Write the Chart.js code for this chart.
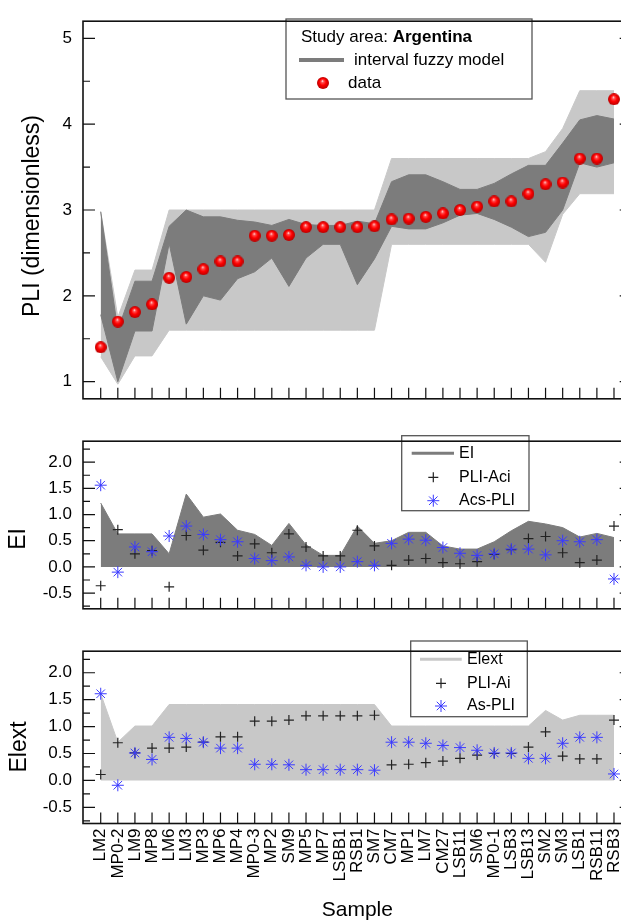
<!DOCTYPE html>
<html>
<head>
<meta charset="utf-8">
<script src="https://cdn.jsdelivr.net/npm/chart.js@4.4.1/dist/chart.umd.min.js"></script>
<style>
  html, body { margin: 0; padding: 0; background: #fff; overflow: hidden; }
  #wrap { position: relative; width: 621px; height: 923px; overflow: hidden; }
  canvas { position: absolute; left: 0; }
</style>
</head>
<body>
<div id="wrap">
  <canvas id="pli" width="640" height="420" style="top:0px"></canvas>
  <canvas id="ei" width="640" height="210" style="top:420px"></canvas>
  <canvas id="elext" width="640" height="293" style="top:630px"></canvas>
</div>
<script>
// sample names (x axis)
const samples = ['LM2', 'MP0-2', 'LM9', 'MP8', 'LM6', 'LM3', 'MP3', 'MP6', 'MP4', 'MP0-3', 'MP2', 'SM9',
  'MP5', 'MP7', 'LSBB1', 'RSB1', 'SM7', 'CM7', 'MP1', 'LM7', 'CM27', 'LSB11', 'SM6', 'MP0-1', 'LSB3',
  'LSB13', 'SM2', 'SM3', 'LSB1', 'RSB11', 'RSB3'];

// top panel: measured PLI and the interval fuzzy model bands
const pliData = [1.40, 1.70, 1.81, 1.90, 2.21, 2.22, 2.31, 2.40, 2.40, 2.70, 2.70, 2.71, 2.80, 2.80, 2.80, 2.80,
  2.81, 2.89, 2.90, 2.92, 2.96, 3.00, 3.04, 3.10, 3.10, 3.19, 3.30, 3.32, 3.60, 3.60, 4.29];
const innerUpper = [2.98, 1.60, 2.17, 2.17, 2.81, 3.00, 2.92, 2.92, 2.88, 2.86, 2.82, 2.89, 2.83, 2.82, 2.82, 2.87,
  2.84, 3.33, 3.41, 3.41, 3.33, 3.24, 3.24, 3.31, 3.42, 3.52, 3.52, 3.78, 4.05, 4.10, 4.06];
const innerLower = [1.78, 1.00, 1.59, 1.59, 2.61, 1.67, 2.00, 1.95, 2.20, 2.28, 2.44, 2.11, 2.44, 2.60, 2.60, 2.13,
  2.43, 2.81, 2.78, 2.78, 2.85, 2.94, 2.96, 2.89, 2.80, 2.69, 2.74, 3.00, 3.55, 3.50, 3.55];
const outerUpper = [2.98, 1.75, 2.30, 2.30, 3.00, 3.00, 3.00, 3.00, 3.00, 3.00, 3.00, 3.00, 3.00, 3.00, 3.00, 3.00,
  3.00, 3.60, 3.60, 3.60, 3.60, 3.60, 3.60, 3.60, 3.60, 3.60, 3.68, 3.95, 4.39, 4.39, 4.39];
const outerLower = [1.29, 0.97, 1.30, 1.30, 1.60, 1.60, 1.60, 1.60, 1.60, 1.60, 1.60, 1.60, 1.60, 1.60, 1.60, 1.60,
  1.60, 2.60, 2.60, 2.60, 2.60, 2.60, 2.60, 2.60, 2.60, 2.60, 2.39, 2.95, 3.19, 3.19, 3.19];

// middle panel
const eiValues = [1.22, 0.63, 0.63, 0.63, 0.25, 1.39, 0.95, 1.01, 0.70, 0.62, 0.41, 0.83, 0.42, 0.22, 0.22, 0.78,
  0.45, 0.50, 0.66, 0.66, 0.40, 0.34, 0.34, 0.48, 0.69, 0.87, 0.82, 0.75, 0.57, 0.64, 0.56];
const pliAci = [-0.36, 0.71, 0.25, 0.31, -0.38, 0.60, 0.32, 0.47, 0.21, 0.44, 0.27, 0.63, 0.38, 0.21, 0.21, 0.70,
  0.40, 0.03, 0.13, 0.16, 0.08, 0.06, 0.10, 0.24, 0.33, 0.54, 0.58, 0.27, 0.08, 0.13, 0.78];
const acsPli = [1.56, -0.10, 0.38, 0.29, 0.59, 0.78, 0.62, 0.52, 0.48, 0.16, 0.12, 0.19, 0.03, 0.00, 0.00, 0.10,
  0.03, 0.45, 0.53, 0.51, 0.37, 0.26, 0.22, 0.25, 0.34, 0.34, 0.23, 0.50, 0.48, 0.52, -0.23];

// bottom panel
const elextValues = [1.61, 0.71, 1.01, 1.01, 1.41, 1.41, 1.41, 1.41, 1.41, 1.41, 1.41, 1.41, 1.41, 1.41, 1.41, 1.41,
  1.41, 1.01, 1.01, 1.01, 1.01, 1.01, 1.01, 1.01, 1.01, 1.01, 1.30, 1.12, 1.21, 1.21, 1.21];
const pliAi = [0.11, 0.70, 0.51, 0.60, 0.60, 0.62, 0.71, 0.81, 0.81, 1.10, 1.10, 1.12, 1.20, 1.20, 1.20, 1.20,
  1.21, 0.29, 0.30, 0.33, 0.36, 0.41, 0.47, 0.50, 0.50, 0.62, 0.90, 0.45, 0.40, 0.40, 1.12];
const asPli = [1.61, -0.09, 0.51, 0.39, 0.80, 0.78, 0.71, 0.60, 0.60, 0.30, 0.30, 0.29, 0.20, 0.20, 0.20, 0.20,
  0.19, 0.71, 0.71, 0.69, 0.65, 0.61, 0.56, 0.51, 0.51, 0.41, 0.41, 0.69, 0.80, 0.80, 0.12];

// tick labels on the y axes
const pliTickLabels = [1, 2, 3, 4, 5];
const eiTickLabels = [-0.5, 0, 0.5, 1, 1.5, 2];

const FONT = 'Arial, "Liberation Sans", sans-serif';
Chart.defaults.font.family = FONT;
Chart.defaults.color = '#000';

const DARK = '#7c7c7c';
const LIGHT = '#c8c8c8';
const BLUE = '#3a3aff';

// shaded red ball used for the data points
function makeBall(r) {
  const c = document.createElement('canvas');
  c.width = c.height = r * 2;
  const g = c.getContext('2d');
  const grad = g.createRadialGradient(r * 0.9, r * 0.65, 0, r, r, r);
  grad.addColorStop(0, '#ffffff');
  grad.addColorStop(0.22, '#ff5050');
  grad.addColorStop(0.55, '#ff0000');
  grad.addColorStop(1, '#b80000');
  g.fillStyle = grad;
  g.beginPath();
  g.arc(r, r, r, 0, Math.PI * 2);
  g.fill();
  return c;
}
const ball = makeBall(6);

const pts = (arr) => arr.map((v, i) => ({ x: i, y: v }));

// box round the plot, inward tick marks and the rotated y title
const frame = {
  id: 'frame',
  afterDraw(chart, args, opts) {
    const { ctx, chartArea: a, scales } = chart;
    ctx.save();
    ctx.strokeStyle = '#111';
    ctx.lineWidth = 1.2;
    ctx.beginPath();
    scales.y.ticks.forEach((t) => {
      const y = scales.y.getPixelForValue(t.value);
      const q = t.value / opts.major;
      const len = Math.abs(q - Math.round(q)) < 1e-6 ? 12 : 7;
      ctx.moveTo(a.left, y); ctx.lineTo(a.left + len, y);
      ctx.moveTo(a.right, y); ctx.lineTo(a.right - len, y);
    });
    samples.forEach((s, i) => {
      const x = scales.x.getPixelForValue(i);
      ctx.moveTo(x, a.bottom); ctx.lineTo(x, a.bottom - 11);
    });
    ctx.stroke();
    ctx.lineWidth = 1.6;
    ctx.strokeRect(a.left, a.top, a.right - a.left, a.bottom - a.top);

    const t = opts.title;
    ctx.translate(t.x, t.y);
    ctx.rotate(-Math.PI / 2);
    ctx.fillStyle = '#000';
    ctx.font = t.size + 'px ' + FONT;
    ctx.textAlign = 'center';
    ctx.textBaseline = 'middle';
    ctx.fillText(t.text, 0, 0);
    ctx.restore();
  }
};

// framed legend drawn inside the plot
const boxLegend = {
  id: 'boxLegend',
  afterDraw(chart, args, o) {
    if (!o.items) return;
    const ctx = chart.ctx;
    ctx.save();
    ctx.fillStyle = '#fff';
    ctx.fillRect(o.x, o.y, o.w, o.h);
    ctx.strokeStyle = '#555';
    ctx.lineWidth = 1.3;
    ctx.strokeRect(o.x, o.y, o.w, o.h);
    ctx.textBaseline = 'middle';
    ctx.textAlign = 'left';
    if (o.title) {
      ctx.fillStyle = '#000';
      ctx.font = o.size + 'px ' + FONT;
      ctx.fillText(o.title[0], o.titleX, o.titleY);
      const w = ctx.measureText(o.title[0]).width;
      ctx.font = 'bold ' + o.size + 'px ' + FONT;
      ctx.fillText(o.title[1], o.titleX + w, o.titleY);
    }
    o.items.forEach((it) => {
      if (it.kind === 'line') {
        ctx.strokeStyle = it.color;
        ctx.lineWidth = it.width;
        ctx.beginPath();
        ctx.moveTo(it.x0, it.y);
        ctx.lineTo(it.x1, it.y);
        ctx.stroke();
      } else if (it.kind === 'ball') {
        ctx.drawImage(ball, it.x - 6, it.y - 6);
      } else {
        ctx.strokeStyle = it.color;
        ctx.lineWidth = it.lw;
        Chart.helpers.drawPoint(ctx, { pointStyle: it.kind, radius: it.r, borderWidth: it.lw, rotation: 0 }, it.x, it.y);
      }
      ctx.fillStyle = '#000';
      ctx.font = o.size + 'px ' + FONT;
      ctx.fillText(it.label, it.tx, it.y);
    });
    ctx.restore();
  }
};

function makeChart(id, cfg) {
  const isHalf = cfg.major === 0.5;
  return new Chart(document.getElementById(id), {
    type: 'line',
    data: { datasets: cfg.datasets },
    options: {
      responsive: false,
      animation: false,
      events: [],
      layout: { padding: { top: cfg.padTop, right: 8.3, left: 0, bottom: 0 } },
      elements: { line: { tension: 0 } },
      plugins: {
        legend: { display: false },
        tooltip: { enabled: false },
        frame: { major: cfg.major, title: cfg.yTitle },
        boxLegend: cfg.legend
      },
      scales: {
        x: {
          type: 'linear',
          min: -1.035,
          max: 31.035,
          afterBuildTicks: (s) => { s.ticks = samples.map((n, i) => ({ value: i })); },
          afterFit: (s) => { s.height = cfg.xHeight; },
          grid: { display: false, drawTicks: false },
          border: { display: false },
          ticks: {
            display: cfg.showX,
            autoSkip: false,
            maxRotation: 90,
            minRotation: 90,
            padding: 5,
            font: { size: 17 },
            color: '#000',
            callback: (v) => samples[v]
          },
          title: {
            display: cfg.showX,
            text: 'Sample',
            font: { size: 21 },
            color: '#000',
            padding: { top: 0, bottom: 0 }
          }
        },
        y: {
          type: 'linear',
          min: cfg.yMin,
          max: cfg.yMax,
          afterFit: (s) => { s.width = 83; },
          grid: { display: false, drawTicks: false },
          border: { display: false },
          ticks: {
            stepSize: cfg.yStep,
            includeBounds: false,
            autoSkip: false,
            padding: 11,
            font: { size: 17 },
            color: '#000',
            callback: (v) => {
              const hit = cfg.tickLabels.find((t) => Math.abs(t - v) < 1e-6);
              if (hit === undefined) return '';
              return isHalf ? hit.toFixed(1) : String(hit);
            }
          }
        }
      }
    },
    plugins: [boxLegend, frame]
  });
}

// top panel
makeChart('pli', {
  yMin: 0.8, yMax: 5.2, yStep: 0.5, major: 1, tickLabels: pliTickLabels,
  yTitle: { text: 'PLI (dimensionless)', x: 33, y: 216, size: 23 },
  padTop: 14, xHeight: 7, showX: false,
  datasets: [
    { data: pts(pliData), showLine: false, pointStyle: ball, pointRadius: 6, order: 0 },
    { data: pts(innerLower), borderColor: DARK, borderWidth: 1, pointRadius: 0, fill: false, order: 1 },
    { data: pts(innerUpper), borderColor: DARK, borderWidth: 1, pointRadius: 0, fill: 1, backgroundColor: DARK, order: 1 },
    { data: pts(outerLower), borderColor: LIGHT, borderWidth: 1, pointRadius: 0, fill: false, order: 2 },
    { data: pts(outerUpper), borderColor: LIGHT, borderWidth: 1, pointRadius: 0, fill: 3, backgroundColor: LIGHT, order: 2 }
  ],
  legend: {
    x: 286, y: 19, w: 246, h: 80, size: 17,
    title: ['Study area: ', 'Argentina'], titleX: 301, titleY: 37,
    items: [
      { kind: 'line', color: DARK, width: 4, x0: 299, x1: 344, y: 60, tx: 354, label: 'interval fuzzy model' },
      { kind: 'ball', x: 323, y: 83, tx: 348, label: 'data' }
    ]
  }
});

// middle panel
makeChart('ei', {
  yMin: -0.8, yMax: 2.4, yStep: 0.25, major: 0.5, tickLabels: eiTickLabels,
  yTitle: { text: 'EI', x: 19, y: 119, size: 23 },
  padTop: 15.7, xHeight: 11.5, showX: false,
  datasets: [
    { data: pts(acsPli), showLine: false, pointStyle: 'star', pointRadius: 6, pointBorderWidth: 1,
      pointBorderColor: BLUE, order: 0 },
    { data: pts(pliAci), showLine: false, pointStyle: 'cross', pointRadius: 5, pointBorderWidth: 1.2,
      pointBorderColor: '#222', order: 1 },
    { data: pts(eiValues), borderColor: DARK, borderWidth: 1, pointRadius: 0, fill: 'origin',
      backgroundColor: DARK, order: 2 }
  ],
  legend: {
    x: 401.7, y: 15.7, w: 127.3, h: 75, size: 16,
    items: [
      { kind: 'line', color: DARK, width: 3, x0: 411.7, x1: 454, y: 33.3, tx: 459, label: 'EI' },
      { kind: 'cross', color: '#222', lw: 1.2, r: 5, x: 433.3, y: 57.3, tx: 459, label: 'PLI-Aci' },
      { kind: 'star', color: BLUE, lw: 1, r: 6, x: 433.3, y: 80.7, tx: 459, label: 'Acs-PLI' }
    ]
  }
});

// bottom panel
makeChart('elext', {
  yMin: -0.8, yMax: 2.4, yStep: 0.25, major: 0.5, tickLabels: eiTickLabels,
  yTitle: { text: 'Elext', x: 20, y: 117, size: 23 },
  padTop: 11, xHeight: 99.5, showX: true,
  datasets: [
    { data: pts(asPli), showLine: false, pointStyle: 'star', pointRadius: 6, pointBorderWidth: 1,
      pointBorderColor: BLUE, order: 0 },
    { data: pts(pliAi), showLine: false, pointStyle: 'cross', pointRadius: 5, pointBorderWidth: 1.2,
      pointBorderColor: '#222', order: 1 },
    { data: pts(elextValues), borderColor: LIGHT, borderWidth: 1, pointRadius: 0, fill: 'origin',
      backgroundColor: LIGHT, order: 2 }
  ],
  legend: {
    x: 410.7, y: 11, w: 116.6, h: 75.7, size: 16,
    items: [
      { kind: 'line', color: LIGHT, width: 3, x0: 420, x1: 461.7, y: 29.3, tx: 467, label: 'Elext' },
      { kind: 'cross', color: '#222', lw: 1.2, r: 5, x: 441, y: 53.3, tx: 467, label: 'PLI-Ai' },
      { kind: 'star', color: BLUE, lw: 1, r: 6, x: 441, y: 76, tx: 467, label: 'As-PLI' }
    ]
  }
});
</script>
</body>
</html>
